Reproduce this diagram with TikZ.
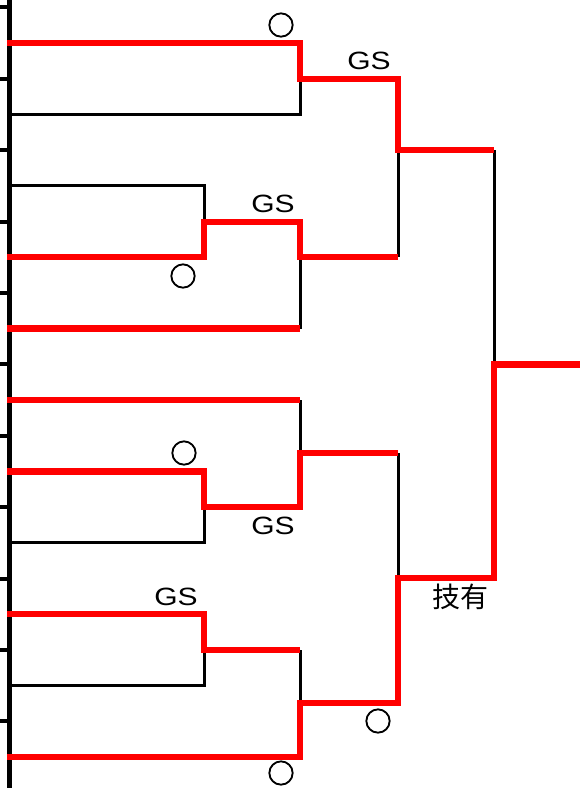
\documentclass[tikz,border=0pt]{standalone}
\usepackage{fontspec}
\setmainfont{Liberation Sans}
\newfontfamily\cjkfont{Noto Sans CJK JP}
\newfontfamily\cjkbold[FakeBold=3]{Noto Sans CJK JP}
\begin{document}
\begin{tikzpicture}[x=1pt,y=-1pt,
  loser/.style={line width=3pt,black,line cap=butt,line join=miter},
  winner/.style={line width=6.5pt,red,line cap=butt,line join=miter},
  axisline/.style={line width=5pt,black},
  tickmark/.style={line width=4pt,black},
  gslabel/.style={inner sep=0pt,font=\fontsize{25}{30}\selectfont},
  marklabel/.style={inner sep=0pt,font=\cjkfont\fontsize{28}{32}\selectfont},
  circlabel/.style={inner sep=0pt,font=\cjkbold\fontsize{27}{32}\selectfont}]
\useasboundingbox (0,0) rectangle (580,788);
\fill[white] (0,0) rectangle (580,788);
% axis and ticks
\draw[axisline] (9.5,0) -- (9.5,788);
\foreach \k in {0,...,10}{
  \draw[tickmark] (0,{7.3+71.4*\k}) -- (8,{7.3+71.4*\k});
}
% losing lines
\draw[loser] (12,114.4) -- (300,114.4) -- (300,79);
\draw[loser] (12,185.8) -- (204,185.8) -- (204,222);
\draw[loser] (300,257.2) -- (300,328.6);
\draw[loser] (398,150) -- (398,257.2);
\draw[loser] (494,150) -- (494,364.5);
\draw[loser] (300,400) -- (300,453);
\draw[loser] (12,542.8) -- (204,542.8) -- (204,507);
\draw[loser] (398,453) -- (398,578);
\draw[loser] (12,685.6) -- (204,685.6) -- (204,650);
\draw[loser] (300,650) -- (300,703);
% winning lines
\draw[winner] (7,43) -- (300,43) -- (300,79) -- (398,79) -- (398,150) -- (494,150);
\draw[winner] (7,257.2) -- (204,257.2) -- (204,222) -- (300,222) -- (300,257.2) -- (398,257.2);
\draw[winner] (7,328.6) -- (300,328.6);
\draw[winner] (7,400) -- (300,400);
\draw[winner] (7,471.4) -- (204,471.4) -- (204,507) -- (300,507) -- (300,453) -- (398,453);
\draw[winner] (7,614.2) -- (204,614.2) -- (204,650) -- (300,650);
\draw[winner] (7,757) -- (300,757) -- (300,703) -- (398,703) -- (398,578) -- (494,578) -- (494,364.5) -- (580,364.5);
% labels
\node[gslabel] (gs1) at (369,61) {\scalebox{1.2}[1]{GS}};
\node[gslabel] (gs2) at (273,204) {\scalebox{1.2}[1]{GS}};
\node[gslabel] (gs3) at (273,526) {\scalebox{1.2}[1]{GS}};
\node[gslabel] (gs4) at (176,597) {\scalebox{1.2}[1]{GS}};
\node[marklabel] (waza) at (460,597) {技有};
\node[circlabel] (c1) at (281,25) {○};
\node[circlabel] (c2) at (183,276) {○};
\node[circlabel] (c3) at (184,453) {○};
\node[circlabel] (c4) at (378,721) {○};
\node[circlabel] (c5) at (281,773) {○};
\end{tikzpicture}
\end{document}
